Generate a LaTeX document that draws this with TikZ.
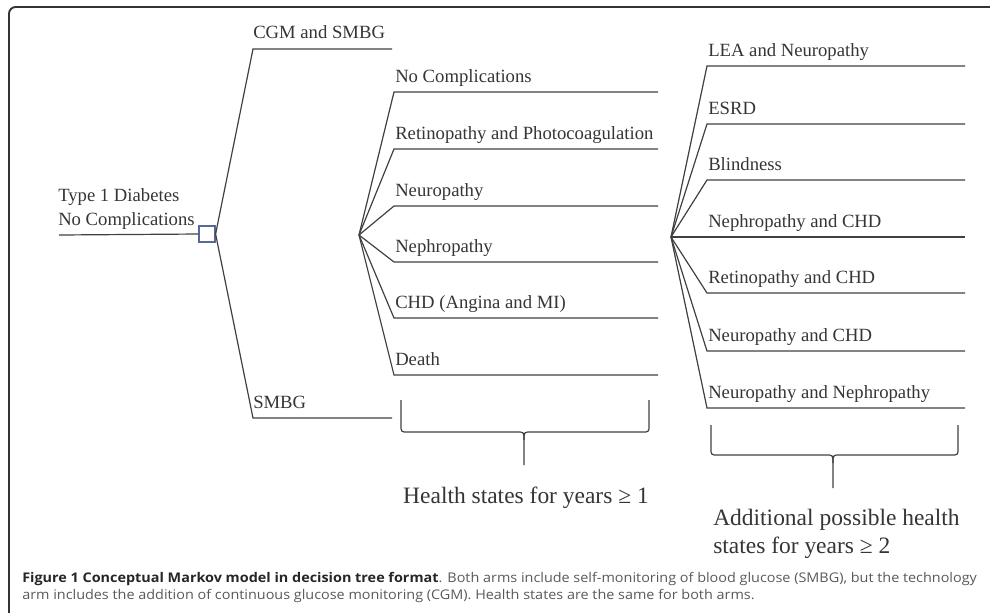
\documentclass[tikz,border=0pt]{standalone}
\usepackage{fontspec}
\setmainfont{Liberation Serif}
\newfontfamily\capfont[FakeStretch=1.08]{Open Sans}
\usetikzlibrary{positioning,calc}
\definecolor{lc}{HTML}{404040}
\definecolor{tc}{HTML}{353535}
\definecolor{sqc}{HTML}{5A6896}

\begin{document}
\begin{tikzpicture}[x=0.75pt,y=-0.75pt,
state/.style={font=\fontsize{14}{18}\selectfont,text=tc,inner sep=0pt,anchor=base west},
sq/.style={draw=sqc,line width=0.9pt,rectangle,minimum size=12pt,inner sep=0pt},
br/.style={line width=0.9pt,draw=lc},
big/.style={font=\fontsize{17.6}{21}\selectfont,text=tc,inner sep=0pt},
capline/.style={font=\capfont\fontsize{10}{13}\selectfont,text=black!65,inner sep=0pt,anchor=base west}]

\useasboundingbox (0,0) rectangle (990,612);
\draw[line width=1.4pt,draw=black!80,rounded corners=5pt] (9,625) -- (9,7) -- (1000,7);

% decision node and the two arms
\node[sq] (dec) at (207,234) {};
\coordinate (r) at (59,235);
\draw[br] (r) -- (dec.west);
\node[state,anchor=south west,align=left] (root) at (58,230) {Type 1 Diabetes\\No Complications};
\coordinate (cgm) at (253,49);
\coordinate (cgme) at (392,49);
\draw[br] (dec.east) -- (cgm) -- (cgme);
\node[state] (l1) at ($(cgm)+(0,-11)$) {CGM and SMBG};
\coordinate (smbg) at (253,418);
\coordinate (smbge) at (392,418);
\draw[br] (dec.east) -- (smbg) -- (smbge);
\node[state] (l2) at ($(smbg)+(0,-10)$) {SMBG};

% health states, years >= 1
\coordinate (m) at (359,235);
\foreach \y/\t [count=\i] in {92/No Complications, 149/Retinopathy and Photocoagulation, 206/Neuropathy, 262/Nephropathy, 318/{CHD (Angina and MI)}, 375/Death} {
  \coordinate (m\i) at (394,\y);
  \coordinate (me\i) at (658,\y);
  \draw[br] (m) -- (m\i) -- (me\i);
  \node[state] (ml\i) at ($(m\i)+(1,-10)$) {\t};
}

% health states, years >= 2
\coordinate (n) at (671,237);
\foreach \y/\t [count=\i] in {66/LEA and Neuropathy, 124/ESRD, 180/Blindness, 237/Nephropathy and CHD, 293/Retinopathy and CHD, 351/Neuropathy and CHD, 408/Neuropathy and Nephropathy} {
  \coordinate (n\i) at (707,\y);
  \coordinate (ne\i) at (965,\y);
  \draw[br] (n) -- (n\i) -- (ne\i);
  \node[state] (nl\i) at ($(n\i)+(1,-10)$) {\t};
}

% braces
\draw[br] (401,400) -- (401,425) .. controls (401,432) .. (408,432) -- (517,432) .. controls (524,432) .. (524,440) -- (524,465);
\draw[br] (649,400) -- (649,425) .. controls (649,432) .. (642,432) -- (531,432) .. controls (524,432) .. (524,440);
\draw[br] (711,425) -- (711,448) .. controls (711,455) .. (718,455) -- (826,455) .. controls (833,455) .. (833,463) -- (833,488);
\draw[br] (958,425) -- (958,448) .. controls (958,455) .. (951,455) -- (840,455) .. controls (833,455) .. (833,463);
\node[big,anchor=base] (h1) at (526,503) {Health states for years ≥ 1};
\node[big,anchor=north west,align=left] (h2) at (713,509) {Additional possible health\\states for years ≥ 2};

% caption
\node[capline] (cap1) at (22,582) {\textcolor{black!85}{\bfseries Figure 1 Conceptual Markov model in decision tree format}. Both arms include self-monitoring of blood glucose (SMBG), but the technology};
\node[capline] (cap2) at (22,599.5) {arm includes the addition of continuous glucose monitoring (CGM). Health states are the same for both arms.};
\end{tikzpicture}
\end{document}
